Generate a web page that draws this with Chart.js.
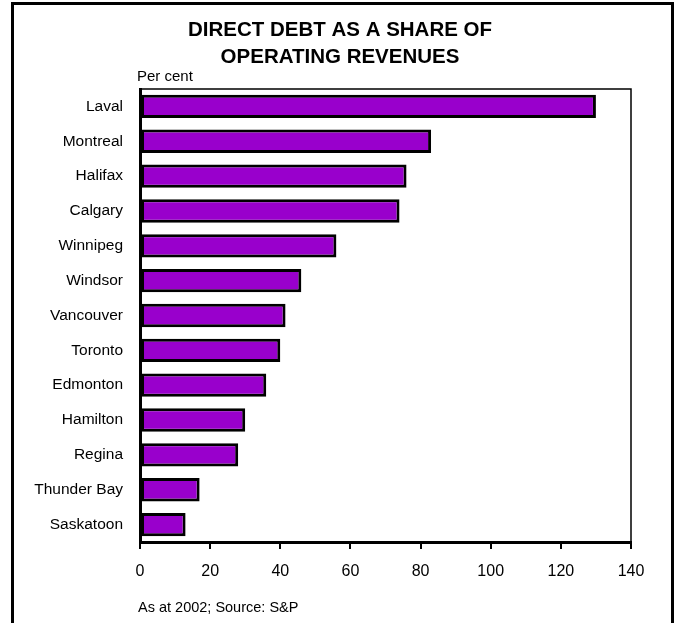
<!DOCTYPE html>
<html>
<head>
<meta charset="utf-8">
<title>Direct debt as a share of operating revenues</title>
<script src="https://cdn.jsdelivr.net/npm/chart.js@4.4.0/dist/chart.umd.min.js"></script>
<style>
    html, body { margin: 0; padding: 0; background: #fff; }
    #wrap { position: relative; width: 678px; height: 623px; }
</style>
</head>
<body>
<div id="wrap"><canvas id="debtChart" width="678" height="623"></canvas></div>
<script>
const cities = ['Laval', 'Montreal', 'Halifax', 'Calgary', 'Winnipeg', 'Windsor', 'Vancouver',
    'Toronto', 'Edmonton', 'Hamilton', 'Regina', 'Thunder Bay', 'Saskatoon'];
const debtShare = [130, 83, 76, 74, 56, 46, 41.5, 40, 36, 30, 28, 17, 13];
const xTicks = [0, 20, 40, 60, 80, 100, 120, 140];
const titleLines = ['DIRECT DEBT AS A SHARE OF', 'OPERATING REVENUES'];
const unitLabel = 'Per cent';
const sourceNote = 'As at 2002; Source: S&P';

Chart.defaults.font.family = 'Arial, "Liberation Sans", sans-serif';
Chart.defaults.color = '#000';

// frame round the whole figure, box round the plot, and the loose texts
const decorations = {
    id: 'decorations',
    afterDraw(chart) {
        const ctx = chart.ctx;
        const area = chart.chartArea;
        ctx.save();
        ctx.strokeStyle = '#000';

        ctx.lineWidth = 3;
        ctx.strokeRect(12.5, 3.5, 660, 640);

        ctx.lineWidth = 1.5;
        ctx.beginPath();
        ctx.moveTo(area.left, area.top);
        ctx.lineTo(area.right, area.top);
        ctx.lineTo(area.right, area.bottom);
        ctx.stroke();

        ctx.fillStyle = '#000';
        ctx.textBaseline = 'middle';
        ctx.textAlign = 'center';
        ctx.font = 'bold 20.5px Arial, "Liberation Sans", sans-serif';
        ctx.fillText(titleLines[0], 340, 30);
        ctx.fillText(titleLines[1], 340, 57);

        ctx.textAlign = 'left';
        ctx.font = '15px Arial, "Liberation Sans", sans-serif';
        ctx.fillText(unitLabel, 137, 77);
        ctx.font = '14.5px Arial, "Liberation Sans", sans-serif';
        ctx.fillText(sourceNote, 138, 608);
        ctx.restore();
    }
};

const ctx = document.getElementById('debtChart').getContext('2d');
const debtChart = new Chart(ctx, {
    type: 'bar',
    data: {
        labels: cities,
        datasets: [{
            data: debtShare,
            backgroundColor: '#9900cc',
            borderColor: '#000',
            borderWidth: 3,
            borderSkipped: false,
            barPercentage: 0.67,
            categoryPercentage: 1
        }]
    },
    options: {
        indexAxis: 'y',
        responsive: false,
        animation: false,
        layout: { padding: { top: 89, right: 47, bottom: 41, left: 0 } },
        plugins: {
            legend: { display: false },
            title: { display: false },
            tooltip: { enabled: false }
        },
        scales: {
            x: {
                min: 0,
                max: 140,
                afterBuildTicks: axis => { axis.ticks = xTicks.map(v => ({ value: v })); },
                afterFit: axis => { axis.height = 40; },
                grid: { drawOnChartArea: false, drawTicks: true, tickLength: 7, color: '#000', lineWidth: 2 },
                border: { display: true, color: '#000', width: 3 },
                ticks: { font: { size: 16 }, padding: 13, maxRotation: 0 }
            },
            y: {
                afterFit: axis => { axis.width = 140; },
                grid: { drawOnChartArea: false, drawTicks: false },
                border: { display: true, color: '#000', width: 3 },
                ticks: { font: { size: 15.5 }, padding: 17 }
            }
        }
    },
    plugins: [decorations]
});
</script>
</body>
</html>
